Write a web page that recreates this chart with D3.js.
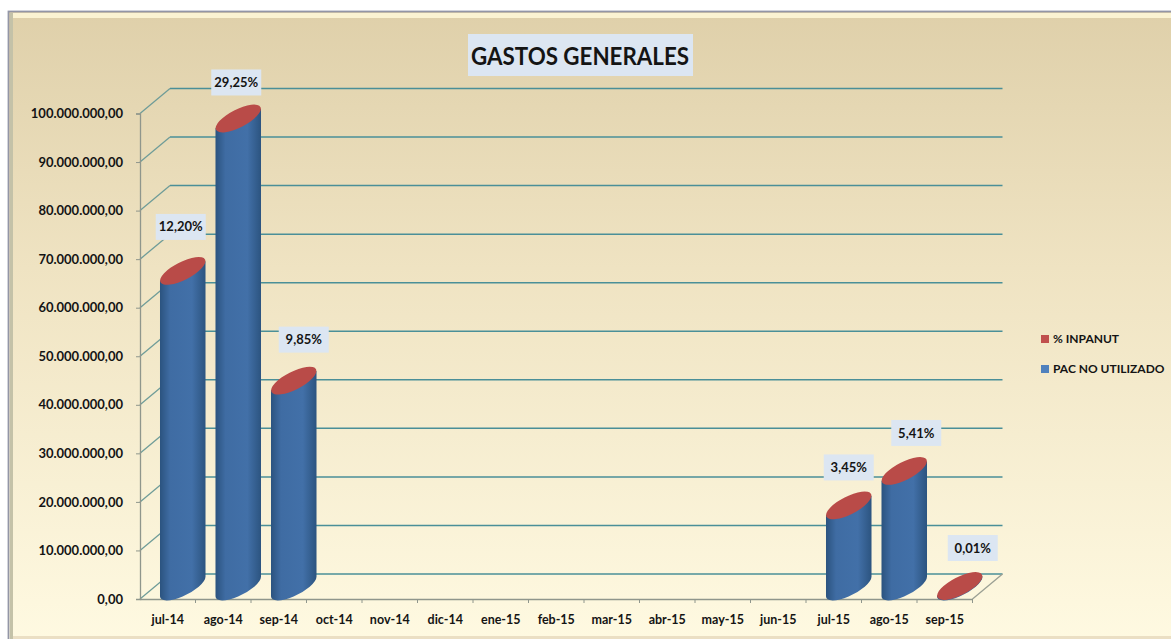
<!DOCTYPE html>
<html>
<head>
<meta charset="utf-8">
<script src="https://cdn.jsdelivr.net/npm/d3@7"></script>
<style>
  html, body { margin: 0; padding: 0; background: #fff; }
  svg { display: block; }
  text { font-family: Lato, "Open Sans", sans-serif; font-weight: 700; fill: #141414; }
</style>
</head>
<body>
<div id="chart"></div>
<script>
const categories = ["jul-14", "ago-14", "sep-14", "oct-14", "nov-14", "dic-14", "ene-15", "feb-15", "mar-15", "abr-15", "may-15", "jun-15", "jul-15", "ago-15", "sep-15"];
const pacNoUtilizado = [65000000, 96400000, 42400000, 0, 0, 0, 0, 0, 0, 0, 0, 0, 16700000, 23800000, 100000];
const inpanutLabels = ["12,20%", "29,25%", "9,85%", null, null, null, null, null, null, null, null, null, "3,45%", "5,41%", "0,01%"];
const legendLabels = ["% INPANUT", "PAC NO UTILIZADO"];
const chartTitle = "GASTOS GENERALES";

const width = 1171;
const height = 639;
const depthX = 30;
const depthY = 25;
const plot = { left: 140, right: 972.5, top: 113.5, bottom: 599 };

const xScale = d3.scaleBand().domain(categories).range([plot.left, plot.right]);
const yScale = d3.scaleLinear().domain([0, 100000000]).range([plot.bottom, plot.top]);

const svg = d3.select("#chart").append("svg")
  .attr("width", width)
  .attr("height", height)
  .attr("viewBox", `0 0 ${width} ${height}`);

const defs = svg.append("defs");

// Panel background, darker at the top
const panelGrad = defs.append("linearGradient")
  .attr("id", "panelGrad")
  .attr("x1", 0).attr("y1", 0).attr("x2", 0).attr("y2", 1);
panelGrad.append("stop").attr("offset", "0%").attr("stop-color", "#dfd0aa");
panelGrad.append("stop").attr("offset", "40%").attr("stop-color", "#efe3c2");
panelGrad.append("stop").attr("offset", "100%").attr("stop-color", "#fffae2");

const barGrad = defs.append("linearGradient")
  .attr("id", "barGrad")
  .attr("x1", 0).attr("y1", 0).attr("x2", 1).attr("y2", 0);
barGrad.append("stop").attr("offset", "0%").attr("stop-color", "#2b537f");
barGrad.append("stop").attr("offset", "22%").attr("stop-color", "#3f6ca3");
barGrad.append("stop").attr("offset", "70%").attr("stop-color", "#4270a8");
barGrad.append("stop").attr("offset", "100%").attr("stop-color", "#2c5480");

svg.append("rect")
  .attr("x", 8.5).attr("y", 11.5)
  .attr("width", width).attr("height", height)
  .attr("fill", "url(#panelGrad)")
  .attr("stroke", "#9396a6")
  .attr("stroke-width", 1.8);

// Bevel along the edges of the panel
svg.append("rect").attr("x", 13).attr("y", 13).attr("width", width).attr("height", 5).attr("fill", "#fbf3d2");
svg.append("rect").attr("x", 10).attr("y", 13).attr("width", 3).attr("height", height).attr("fill", "#c4c2a8");
svg.append("rect").attr("x", 13).attr("y", 636).attr("width", width).attr("height", 3).attr("fill", "#ebdfc4");

// Gridlines on the back wall and their diagonals on the side wall
const gridTicks = yScale.ticks(10);
const gridColor = "#4a8f98";

svg.append("g").selectAll("line")
  .data(gridTicks)
  .join("line")
    .attr("x1", plot.left + depthX)
    .attr("x2", plot.right + depthX)
    .attr("y1", (d) => yScale(d) - depthY)
    .attr("y2", (d) => yScale(d) - depthY)
    .attr("stroke", gridColor)
    .attr("stroke-width", 1.5);

svg.append("g").selectAll("line")
  .data(gridTicks)
  .join("line")
    .attr("x1", plot.left)
    .attr("x2", plot.left + depthX)
    .attr("y1", (d) => yScale(d))
    .attr("y2", (d) => yScale(d) - depthY)
    .attr("stroke", "#6f9c98")
    .attr("stroke-width", 1.3);

// Right edge of the floor
svg.append("line")
  .attr("x1", plot.right).attr("y1", plot.bottom)
  .attr("x2", plot.right + depthX).attr("y2", plot.bottom - depthY)
  .attr("stroke", "#9a9f93")
  .attr("stroke-width", 1.3);

// Axes
const numberFormat = d3.formatLocale({ decimal: ",", thousands: ".", grouping: [3], currency: ["", ""] }).format(",.2f");

const yAxis = svg.append("g")
  .attr("transform", `translate(${plot.left}, 0)`)
  .call(d3.axisLeft(yScale).ticks(10).tickFormat(numberFormat).tickSize(4).tickPadding(13));

const xAxis = svg.append("g")
  .attr("transform", `translate(0, ${plot.bottom})`)
  .call(d3.axisBottom(xScale).tickSize(0).tickPadding(16));

xAxis.selectAll(".tick")
  .append("line")
    .attr("x1", xScale.bandwidth() / 2)
    .attr("x2", xScale.bandwidth() / 2)
    .attr("y1", 0)
    .attr("y2", 4)
    .attr("stroke", "#8f968c");

yAxis.selectAll("line").attr("stroke", "#8f968c");
yAxis.select(".domain").attr("stroke", "#8f968c").attr("stroke-width", 1.3);
xAxis.select(".domain").attr("stroke", "#8f968c").attr("stroke-width", 1.6);
yAxis.selectAll("text").attr("font-size", 13);
xAxis.selectAll("text").attr("font-size", 12.5);

// Slanted cylinders
const capRx = 25;
const capRy = 9;
const capAngle = -27;
const halfW = xScale.bandwidth() * 0.41;
const capDy = 9.7;
const centerX = (d) => xScale(d) + xScale.bandwidth() / 2 + depthX / 2;
const baseY = plot.bottom - depthY / 2;
const topY = (v) => yScale(v) - depthY / 2;

const barData = categories
  .map((c, i) => ({ category: c, value: pacNoUtilizado[i], label: inpanutLabels[i] }))
  .filter((d) => d.label !== null);

const bars = svg.append("g").selectAll("g")
  .data(barData)
  .join("g");

bars.append("path")
  .attr("fill", "url(#barGrad)")
  .attr("d", (d) => {
    const cx = centerX(d.category);
    const t = topY(d.value);
    return `M${cx - halfW},${t + capDy} L${cx - halfW},${baseY + capDy} ` +
      `A${capRx},${capRy} ${capAngle} 0 0 ${cx + halfW},${baseY - capDy} ` +
      `L${cx + halfW},${t - capDy} Z`;
  });

bars.append("ellipse")
  .attr("rx", capRx)
  .attr("ry", capRy)
  .attr("fill", "#b94b48")
  .attr("transform", (d) => `translate(${centerX(d.category)}, ${topY(d.value)}) rotate(${capAngle})`);

// Label nudges from the cylinder top, they are not at a fixed spot in the original
const labelNudge = {
  "jul-14": [-2, -44], "ago-14": [-2, -36], "sep-14": [10, -41],
  "jul-15": [0, -38], "ago-15": [12, -38], "sep-15": [13, -38]
};

const labels = svg.append("g").selectAll("g")
  .data(barData)
  .join("g")
    .attr("transform", (d) => {
      const [dx, dy] = labelNudge[d.category];
      return `translate(${centerX(d.category) + dx}, ${topY(d.value) + dy})`;
    });

labels.append("rect")
  .attr("x", -25).attr("y", -13)
  .attr("width", 50).attr("height", 26)
  .attr("fill", "#dce6f2");

labels.append("text")
  .attr("text-anchor", "middle")
  .attr("dy", "0.35em")
  .attr("font-size", 13)
  .text((d) => d.label);

// Title, squeezed because Lato runs wider than the original font
svg.append("rect")
  .attr("x", 468).attr("y", 34)
  .attr("width", 225).attr("height", 42)
  .attr("fill", "#dce6f2");

svg.append("text")
  .attr("x", 471).attr("y", 56)
  .attr("dy", "0.35em")
  .attr("font-size", 25)
  .attr("textLength", 218)
  .attr("lengthAdjust", "spacingAndGlyphs")
  .text(chartTitle);

// Legend
const legendScale = d3.scalePoint().domain(legendLabels).range([339, 369]);
const legendColors = d3.scaleOrdinal().domain(legendLabels).range(["#c0504d", "#4f81bd"]);

const legend = svg.append("g").selectAll("g")
  .data(legendLabels)
  .join("g")
    .attr("transform", (d) => `translate(1041, ${legendScale(d)})`);

legend.append("rect")
  .attr("y", -4)
  .attr("width", 8).attr("height", 8)
  .attr("fill", (d) => legendColors(d));

legend.append("text")
  .attr("x", 12)
  .attr("dy", "0.35em")
  .attr("font-size", 12)
  .text((d) => d);
</script>
</body>
</html>
